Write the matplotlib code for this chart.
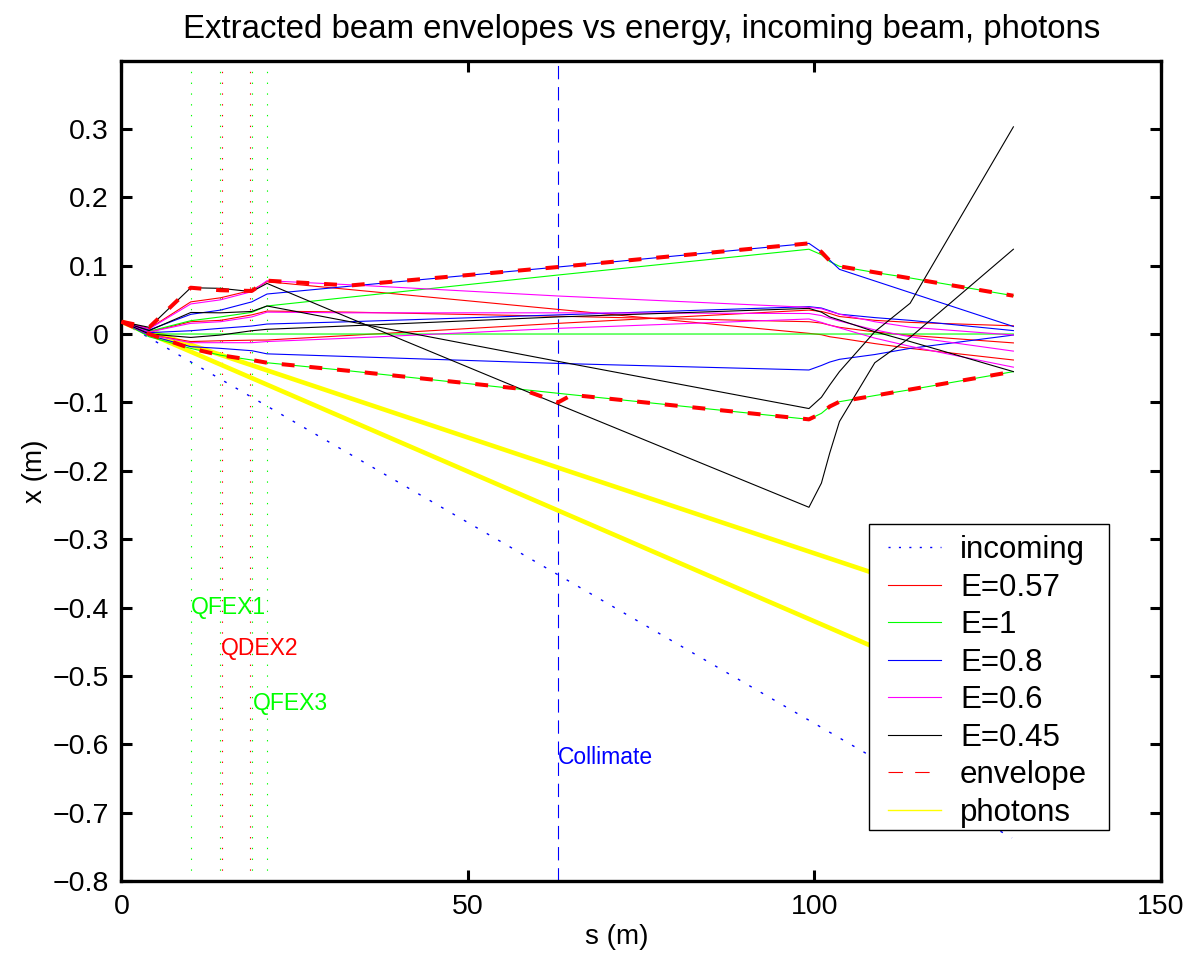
import matplotlib
matplotlib.use('Agg')
import matplotlib.pyplot as plt
from matplotlib.lines import Line2D
from matplotlib.patches import Rectangle

# Fuente parecida a Helvetica (la de MATLAB)
plt.rcParams['font.family'] = ['Liberation Sans', 'DejaVu Sans']

# Posiciones s (m) de los nodos del trazado
s_nodos = [0, 4, 10, 14.3, 18.8, 21, 33, 63, 99.2, 101, 102.2, 103.6, 108.7, 113.8, 128.7]

# E=0.57 (rojo): tres rayos
rojo_1 = [0.018, 0.008, 0.047, 0.053, 0.064, 0.0765, 0.065, 0.036, 0.001, -0.001, -0.004, -0.006, -0.014, -0.021, -0.038]
rojo_2 = [0.018, 0.003, 0.018, 0.020, 0.028, 0.0336, 0.032, 0.026, 0.018, 0.016, 0.013, 0.0098, 0.003, -0.002, -0.013]
rojo_3 = [0.018, -0.001, -0.011, -0.0098, -0.009, -0.0088, -0.002, 0.0156, 0.035, 0.033, 0.030, 0.0256, 0.020, 0.017, 0.012]

# E=1 (verde)
verde_1 = [0.018, 0.004, 0.0195, 0.025, 0.0317, 0.041, 0.054, 0.0863, 0.124, 0.116, 0.106, 0.099, 0.090, 0.082, 0.056]
verde_2 = [0.018, 0, 0, 0, 0, 0, 0, 0, 0, 0, 0, 0, 0, 0, 0]
verde_3 = [0.018, -0.004, -0.021, -0.031, -0.038, -0.042, -0.054, -0.0867, -0.1248, -0.116, -0.106, -0.099, -0.090, -0.0815, -0.055]

# E=0.8 (azul)
azul_1 = [0.018, 0.006, 0.0288, 0.035, 0.047, 0.0585, 0.070, 0.098, 0.1326, 0.120, 0.108, 0.0946, 0.0776, 0.0606, 0.011]
azul_2 = [0.018, 0.002, 0.0048, 0.0083, 0.0117, 0.0146, 0.018, 0.028, 0.040, 0.038, 0.034, 0.029, 0.024, 0.020, 0.005]
azul_3 = [0.018, -0.002, -0.0185, -0.021, -0.0244, -0.029, -0.033, -0.043, -0.0526, -0.046, -0.041, -0.037, -0.030, -0.021, -0.0015]

# E=0.6 (magenta)
magenta_1 = [0.018, 0.0075, 0.044, 0.050, 0.062, 0.078, 0.072, 0.0556, 0.039, 0.037, 0.033, 0.029, 0.018, 0.010, -0.0015]
magenta_2 = [0.018, 0.003, 0.0156, 0.018, 0.025, 0.032, 0.031, 0.031, 0.030, 0.027, 0.023, 0.019, 0.006, -0.004, -0.025]
magenta_3 = [0.018, -0.001, -0.0127, -0.0127, -0.0127, -0.011, -0.006, 0.0083, 0.022, 0.017, 0.013, 0.009, -0.006, -0.018, -0.0485]

# E=0.45 (negro)
negro_1 = [0.018, 0.0098, 0.0677, 0.0668, 0.062, 0.074, 0.023, -0.103, -0.2534, -0.218, -0.174, -0.128, -0.042, -0.005, 0.124]
negro_2 = [0.018, 0.005, 0.0315, 0.031, 0.033, 0.041, 0.018, -0.040, -0.109, -0.0925, -0.0746, -0.055, 0.0034, 0.045, 0.303]
negro_3 = [0.018, 0.000, -0.005, -0.0015, 0.0048, 0.0069, 0.012, 0.025, 0.0375, 0.032, 0.025, 0.0205, 0.0034, -0.011, -0.055]

# Envolvente superior e inferior
env_s = [0, 4, 10, 14.3, 18.8, 21, 33, 57.5, 63, 65, 99.2, 101, 102.2, 103.6, 128.7]
env_sup = [0.018, 0.0098, 0.0677, 0.064, 0.063, 0.078, 0.071, 0.093, 0.098, 0.100, 0.1326, 0.120, 0.107, 0.099, 0.056]
env_inf = [0.018, 0.0, -0.021, -0.031, -0.038, -0.042, -0.054, -0.080, -0.100, -0.089, -0.1248, -0.116, -0.106, -0.099, -0.055]

# Haz entrante y fotones
entrada_s = [0, 128.5]
entrada_x = [0.018, -0.737]
foton_s = [0, 128.7]
foton_1 = [0.018, -0.418]
foton_2 = [0.018, -0.546]

# Elementos de la linea
quad_verde = [10, 14.2, 18.9, 21.0]
quad_rojo = [14.45, 18.6]
colimador = 63
etiquetas = [('QFEX1', 10, -0.40, (0, 1, 0)), ('QDEX2', 14.4, -0.46, (1, 0, 0)),
             ('QFEX3', 18.9, -0.54, (0, 1, 0)), ('Collimate', 63, -0.62, (0, 0, 1))]

energias = [('E=0.57', (1, 0, 0), [rojo_1, rojo_2, rojo_3]),
            ('E=1', (0, 1, 0), [verde_1, verde_2, verde_3]),
            ('E=0.8', (0, 0, 1), [azul_1, azul_2, azul_3]),
            ('E=0.6', (1, 0, 1), [magenta_1, magenta_2, magenta_3]),
            ('E=0.45', (0, 0, 0), [negro_1, negro_2, negro_3])]

fig = plt.figure(figsize=(11.92, 9.59), dpi=100)
ax = fig.add_axes([0.1019, 0.0813, 0.8721, 0.8556])

# Haz entrante punteado
ax.plot(entrada_s, entrada_x, color=(0, 0, 1), lw=1.0, dashes=(2, 7.5), zorder=2)

# Rayos para cada energia
for nombre, color, rayos in energias:
    for rayo in rayos:
        ax.plot(s_nodos, rayo, color=color, lw=0.8, zorder=3)

# Fotones
ax.plot(foton_s, foton_1, color=(1, 1, 0), lw=3.3, zorder=2.5)
ax.plot(foton_s, foton_2, color=(1, 1, 0), lw=3.3, zorder=2.5)

# Envolvente gruesa discontinua
ax.plot(env_s, env_sup, color=(1, 0, 0), lw=2.9, dashes=(3.2, 3.7), zorder=4)
ax.plot(env_s, env_inf, color=(1, 0, 0), lw=2.9, dashes=(3.2, 3.7), zorder=4)

# Lineas verticales de los cuadrupolos y del colimador
for q in quad_verde:
    ax.axvline(q, color=(0, 1, 0), lw=0.8, dashes=(1.2, 8.5), zorder=1)
for q in quad_rojo:
    ax.axvline(q, color=(1, 0, 0), lw=0.8, dashes=(1.2, 8.5), zorder=1)
ax.axvline(colimador, color=(0, 0, 1), lw=0.8, dashes=(12, 7), zorder=1)

for texto, xs, ys, color in etiquetas:
    ax.text(xs, ys, texto, color=color, fontsize=16.5, ha='left', va='center')

ax.set_xlim(0, 150)
ax.set_ylim(-0.8, 0.4)
ax.set_xticks([0, 50, 100, 150])
yt = [-0.8, -0.7, -0.6, -0.5, -0.4, -0.3, -0.2, -0.1, 0, 0.1, 0.2, 0.3]
ax.set_yticks(yt)
ax.set_yticklabels(['0' if v == 0 else ('%.1f' % v).replace('-', '\u2212') for v in yt])
ax.tick_params(direction='in', length=8, width=2.2, labelsize=20.5, pad=9,
               top=True, right=True)
for lado in ax.spines.values():
    lado.set_linewidth(2.4)

ax.set_title('Extracted beam envelopes vs energy, incoming beam, photons', fontsize=23.8, pad=16)
ax.set_xlabel('s (m)', fontsize=20)
ax.set_ylabel('x (m)', fontsize=20)
ax.xaxis.set_label_coords(0.4767, -0.068)
ax.yaxis.set_label_coords(-0.083, 0.5)
ax.xaxis.label.set_va('center')
ax.yaxis.label.set_va('center')

# Leyenda con marco propio
marco = Rectangle((0.7191, 0.0622), 0.2309, 0.3729, transform=ax.transAxes,
                  facecolor='white', edgecolor='black', lw=1.0, zorder=6)
ax.add_patch(marco)
manejadores = [Line2D([], [], color=(0, 0, 1), lw=1.0, dashes=(1.5, 6))]
nombres = ['incoming']
for nombre, color, rayos in energias:
    manejadores.append(Line2D([], [], color=color, lw=0.8))
    nombres.append(nombre)
manejadores.append(Line2D([], [], color=(1, 0, 0), lw=0.8, dashes=(13, 11)))
nombres.append('envelope')
manejadores.append(Line2D([], [], color=(1, 1, 0), lw=1.0))
nombres.append('photons')
ley = ax.legend(manejadores, nombres, loc='upper left', bbox_to_anchor=(0.7374, 0.4215),
                fontsize=22.5, frameon=False, borderpad=0, borderaxespad=0,
                handlelength=1.7, handletextpad=0.6, labelspacing=0.24)
ley.set_zorder(7)

fig.savefig('out.png', dpi=100)
